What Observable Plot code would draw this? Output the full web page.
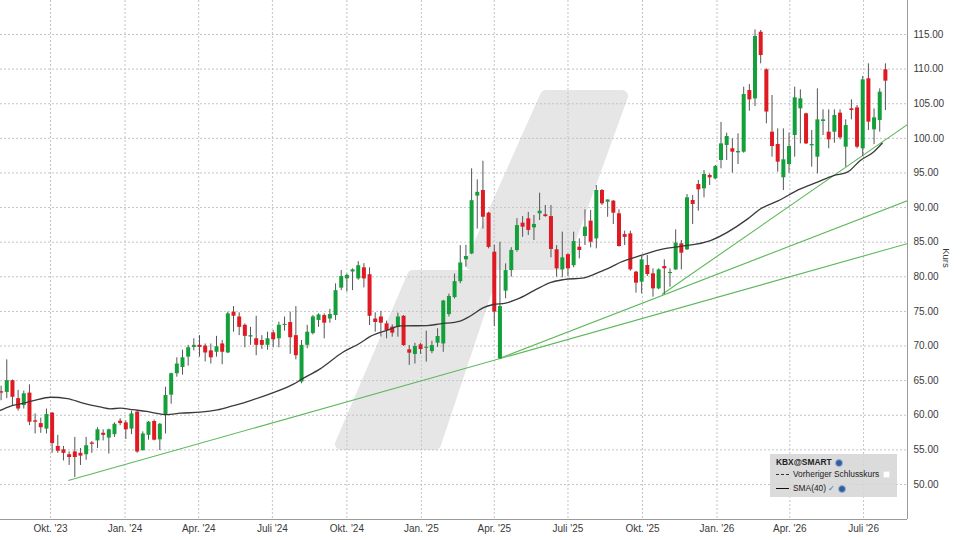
<!DOCTYPE html>
<html><head><meta charset="utf-8">
<script src="https://cdn.jsdelivr.net/npm/d3@7"></script>
<script src="https://cdn.jsdelivr.net/npm/@observablehq/plot@0.6"></script>
<style>
body{margin:0;background:#fff;font-family:"Liberation Sans",Arial,sans-serif;}
#wrap{position:relative;width:960px;height:540px;overflow:hidden;}
#legend{position:absolute;left:770px;top:454px;width:127px;height:43px;background:rgba(214,214,214,0.88);font-size:8.4px;color:#222;line-height:13.5px;}
#legend .row{position:absolute;left:6px;white-space:nowrap;}
.glb{display:inline-block;width:6px;height:6px;border-radius:50%;background:#2f5f9e;border:1px solid #9bb4d6;vertical-align:middle;margin-left:3px;}
.sq{display:inline-block;width:5px;height:5px;background:#fff;border:1px solid #e6e6e6;vertical-align:middle;margin-left:4px;}
</style></head>
<body><div id="wrap"></div>
<script>
// ---- data (weekly candles, first week starting 2023-08-01) ----
const firstWeek = "2023-08-01";
const open  = [63.4,63.3,65.0,62.4,61.4,63.2,59.2,58.8,58.0,60.3,55.5,55.0,54.3,54.7,54.5,54.3,56.0,56.3,57.4,56.7,57.2,59.15,58.9,58.0,60.45,54.9,57.1,59.1,56.45,60.0,62.9,66.0,66.9,68.4,69.8,70.1,70.0,69.3,69.1,70.3,69.0,74.9,74.2,73.0,71.3,71.05,70.8,70.1,71.9,71.05,73.0,73.4,71.5,64.8,70.1,71.8,73.7,74.4,73.9,74.4,78.36,79.7,80.7,79.7,81.3,80.3,73.9,74.2,73.2,72.72,72.7,74.3,69.45,68.78,70.17,69.7,69.2,70.41,70.3,74.55,77.0,79.3,82.45,83.3,91.65,92.47,89.19,83.56,68.15,77.93,80.9,83.8,87.75,88.37,87.07,89.1,88.95,88.7,83.9,81.0,83.2,81.6,84.28,85.82,88.04,85.48,92.47,90.78,90.93,89.1,86.1,86.2,80.67,79.23,81.63,80.43,78.26,81.49,80.5,81.0,84.76,83.9,91.02,93.33,92.71,94.63,94.15,96.8,98.97,98.5,97.9,98.0,106.91,105.7,115.33,109.9,100.89,99.11,94.3,96.22,100.41,104.26,103.54,98.92,97.28,102.43,100.89,100.89,103.64,98.72,104.26,104.4,98.49,108.6,101.23,102.58,109.9];
const high  = [64.2,68.0,65.1,63.6,63.5,64.4,60.2,59.6,60.9,60.4,57.1,55.5,54.7,56.8,55.2,56.8,56.2,58.2,57.9,58.0,58.9,59.5,59.2,60.6,60.6,57.6,59.1,59.3,58.8,64.05,66.1,68.3,69.4,70.1,71.05,71.5,70.3,70.3,71.4,70.8,74.9,75.7,74.8,73.2,72.7,74.3,71.5,72.0,72.25,73.45,74.2,74.9,75.7,70.8,73.0,74.4,74.65,74.65,75.3,78.98,80.9,80.4,81.15,82.2,81.9,81.3,74.8,75.0,73.6,73.06,74.75,74.4,70.07,70.4,70.4,72.15,70.7,72.5,76.6,77.5,80.4,84.5,84.55,95.6,94.0,96.7,89.3,84.55,85.0,81.87,84.2,88.4,88.7,89.3,88.86,92.08,90.3,90.3,84.5,86.45,83.3,86.45,85.48,89.67,89.57,93.19,92.6,91.1,91.02,89.67,86.59,86.59,80.8,82.93,83.08,81.15,81.15,82.45,81.15,86.78,85.24,91.89,91.74,93.91,95.35,94.87,96.08,102.3,100.75,99.93,100.65,107.39,107.78,115.67,115.58,110.04,106.19,101.37,101.37,100.75,107.39,107.0,103.64,101.13,107.15,104.12,104.12,104.12,104.12,102.67,105.56,104.74,108.93,110.76,104.26,107.15,110.76];
const low   = [62.1,62.4,61.4,60.6,60.9,58.5,57.3,57.4,57.3,54.5,54.5,53.4,52.75,51.0,52.75,53.5,54.5,55.2,56.3,54.4,56.8,58.5,56.5,57.2,54.5,54.8,56.4,56.3,54.9,57.3,61.6,65.5,65.8,67.1,69.3,68.4,67.7,67.4,68.4,67.3,68.9,72.0,71.5,69.75,70.1,68.6,69.5,69.4,69.75,69.75,72.15,68.8,68.0,64.55,69.6,71.6,72.7,71.04,73.3,73.7,78.0,77.8,78.0,79.5,78.4,72.96,72.0,71.3,71.04,71.28,71.28,69.93,67.2,67.4,68.8,67.67,68.9,69.8,69.1,74.2,76.8,79.0,81.4,83.2,86.9,86.9,84.04,72.8,68.1,76.82,79.95,83.56,85.7,85.97,85.24,88.13,88.6,82.74,79.94,79.85,80.04,81.3,82.6,84.52,84.18,84.04,90.3,88.6,87.55,84.28,84.52,80.8,77.64,77.54,80.04,77.06,78.12,77.45,78.5,80.92,81.0,83.8,87.55,89.48,91.41,93.19,94.0,95.6,96.8,94.97,96.22,97.86,103.92,104.6,110.76,102.1,97.28,95.11,92.46,94.97,97.28,99.2,99.11,95.84,94.87,100.41,98.49,99.3,99.78,95.84,102.67,98.49,97.38,101.13,99.11,100.89,104.02];
const close = [63.2,65.0,62.6,60.9,63.1,59.0,59.0,58.2,60.1,55.9,54.8,54.5,53.9,53.9,54.1,55.6,55.8,57.9,57.1,57.9,58.7,58.8,57.9,60.2,54.7,57.3,59.0,56.4,58.7,62.85,66.0,67.4,68.3,69.75,70.1,69.8,69.0,68.3,69.9,69.1,74.65,74.3,72.7,71.4,71.5,70.1,70.1,71.05,70.9,73.0,73.1,71.2,68.6,70.1,72.0,74.2,74.5,73.3,74.55,78.0,80.04,80.2,81.0,81.6,79.7,74.3,73.4,73.3,72.24,71.86,74.2,70.07,68.97,69.93,69.5,69.8,70.07,71.38,76.5,77.15,79.3,82.0,82.93,91.0,92.2,88.6,84.25,74.9,75.7,80.9,83.8,87.4,87.17,86.7,87.56,89.48,88.7,83.95,81.15,82.74,81.15,85.1,83.8,87.17,85.0,92.47,90.54,91.1,89.19,84.38,85.7,81.0,79.08,82.45,80.33,78.26,81.0,81.15,80.6,84.86,83.41,91.41,90.45,92.56,94.78,94.3,95.93,99.2,100.27,98.0,98.1,106.33,105.56,114.71,111.96,103.8,98.82,96.56,96.9,98.82,105.85,105.7,99.2,99.11,102.67,102.67,99.78,103.3,100.07,101.85,104.02,98.72,108.45,102.34,102.96,106.67,108.26];

const smaDates = ["2023-07-31","2023-08-12","2023-08-25","2023-09-10","2023-10-01","2023-10-22","2023-11-10","2023-12-01","2023-12-14","2023-12-26","2024-01-11","2024-01-28","2024-02-13","2024-02-22","2024-03-09","2024-04-03","2024-04-24","2024-05-14","2024-05-22","2024-06-04","2024-06-28","2024-07-27","2024-08-07","2024-08-29","2024-09-26","2024-10-17","2024-10-30","2024-11-20","2024-12-06","2025-01-08","2025-01-24","2025-02-18","2025-03-02","2025-03-18","2025-03-31","2025-04-15","2025-04-30","2025-05-20","2025-06-10","2025-06-26","2025-07-21","2025-08-07","2025-08-23","2025-09-04","2025-09-29","2025-10-27","2025-11-17","2025-12-24","2026-02-08","2026-02-24","2026-03-18","2026-04-14","2026-05-05","2026-05-25","2026-06-11","2026-06-27","2026-07-13","2026-07-24"];
const smaValues = [60.7,61.3,61.65,62.1,62.6,62.4,61.75,61.2,60.93,61.03,60.8,60.55,60.2,60.1,60.3,60.44,60.78,61.4,61.65,62.13,63.1,64.5,65.26,66.7,69.1,70.4,71.4,72.3,72.9,72.96,73.2,73.6,74.3,75.5,76.0,76.2,76.8,78.0,79.2,79.6,79.85,80.6,81.4,82.1,83.08,84.04,84.38,85.24,88.37,89.82,91.0,92.7,93.67,94.63,95.11,96.8,98.0,99.3];

const trendStartDates  = ["2023-10-23","2025-04-07","2025-10-25"];
const trendStartValues = [50.58,68.2,77.45];
const trendEndDates    = ["2026-08-24","2026-08-24","2026-08-24"];
const trendEndValues   = [84.8,91.0,102.0];

const yTicks = [50,55,60,65,70,75,80,85,90,95,100,105,110,115];
const xTickDates  = ["2023-10-01","2024-01-01","2024-04-01","2024-07-01","2024-10-01","2025-01-01","2025-04-01","2025-07-01","2025-10-01","2026-01-01","2026-04-01","2026-07-01"];
const xTickLabels = ["Okt. '23","Jan. '24","Apr. '24","Juli '24","Okt. '24","Jan. '25","Apr. '25","Juli '25","Okt. '25","Jan. '26","Apr. '26","Juli '26"];

// ---- build tables ----
const start = new Date(firstWeek + "T00:00Z");
const candles = open.map((o, i) => {
  const c = close[i];
  const mid = (o + c) / 2;
  return {
    date: d3.utcDay.offset(start, 7 * i),
    o, c, h: high[i], l: low[i],
    top: Math.max(o, c, mid + 0.08),
    bot: Math.min(o, c, mid - 0.08),
    up: c >= o
  };
});
const sma = smaDates.map((d, i) => ({date: new Date(d + "T00:00Z"), v: smaValues[i]}));
const trends = trendStartDates.map((d, i) => ({
  x1: new Date(d + "T00:00Z"), y1: trendStartValues[i],
  x2: new Date(trendEndDates[i] + "T07:00Z"), y2: trendEndValues[i]
}));
const xTicks = xTickDates.map(d => new Date(d + "T00:00Z"));
const labelOf = new Map(xTicks.map((d, i) => [+d, xTickLabels[i]]));

const xDomain = [new Date("2023-07-31T06:00Z"), new Date("2026-08-24T07:00Z")];
const yDomain = [44.944, 119.911];

const chart = Plot.plot({
  width: 960, height: 540,
  marginLeft: 0, marginRight: 53, marginTop: 0, marginBottom: 21,
  style: {fontFamily: "'Liberation Sans', Arial, sans-serif", fontSize: "10px", color: "#3a3a3a", background: "transparent", overflow: "visible"},
  x: {type: "utc", domain: xDomain},
  y: {domain: yDomain},
  marks: [
    Plot.gridX(xTicks, {stroke: "#c4c4c4", strokeOpacity: 1, strokeDasharray: "2,2"}),
    Plot.gridY(yTicks, {stroke: "#c4c4c4", strokeOpacity: 1, strokeDasharray: "2,2"}),
    Plot.link(trends, {x1: "x1", y1: "y1", x2: "x2", y2: "y2", stroke: "#5cb85c", strokeWidth: 1.1, clip: true}),
    Plot.ruleX(candles, {x: "date", y1: "l", y2: "h", stroke: "#555", strokeWidth: 1, clip: true}),
    Plot.ruleX(candles, {x: "date", y1: "bot", y2: "top", stroke: d => d.up ? "#13a03a" : "#df1a22", strokeWidth: 4, clip: true}),
    Plot.line(sma, {x: "date", y: "v", stroke: "#3a3a3a", strokeWidth: 1.3, curve: "monotone-x", clip: true}),
    Plot.ruleY([yDomain[0]], {stroke: "#9a9a9a"}),
    Plot.ruleX([xDomain[1]], {stroke: "#9a9a9a"}),
    Plot.axisY(yTicks, {anchor: "right", tickSize: 0, tickPadding: 6, label: null, tickFormat: d => d.toFixed(2)}),
    Plot.axisX(xTicks, {anchor: "bottom", tickSize: 0, tickPadding: 5, label: null, tickFormat: d => labelOf.get(+d)})
  ]
});

const wrap = document.getElementById("wrap");
wrap.appendChild(chart);

// watermark logo (decorative) behind marks
const svg = d3.select(chart);
const wm = svg.insert("g", ":first-child").attr("fill", "#e6e6e6").attr("stroke", "#e6e6e6")
  .attr("stroke-width", 12).attr("stroke-linejoin", "round");
wm.append("path").attr("d", "M546,96 L622,96 L561,264 L471,264 Z");
wm.append("path").attr("d", "M413,276 L491,276 L435,444 L341,444 Z");

// axis title
svg.append("text").attr("transform", "translate(943,258) rotate(90)")
  .attr("text-anchor", "middle").attr("fill", "#3a3a3a").style("font-size", "9.5px").text("Kurs");

// legend
const lg = document.createElement("div");
lg.id = "legend";
lg.innerHTML =
  '<div class="row" style="top:2px;font-weight:bold;">KBX@SMART<span class="glb"></span></div>' +
  '<div class="row" style="top:14px;"><span style="display:inline-block;width:13px;border-top:1.5px dashed #333;vertical-align:middle;margin-right:4px;"></span>Vorheriger Schlusskurs<span class="sq"></span></div>' +
  '<div class="row" style="top:28px;"><span style="display:inline-block;width:13px;border-top:1.5px solid #111;vertical-align:middle;margin-right:4px;"></span>SMA(40) <span style="color:#2f6fd0;font-size:8px;">&#10003;</span><span class="glb"></span></div>';
wrap.appendChild(lg);
</script>
</body></html>
